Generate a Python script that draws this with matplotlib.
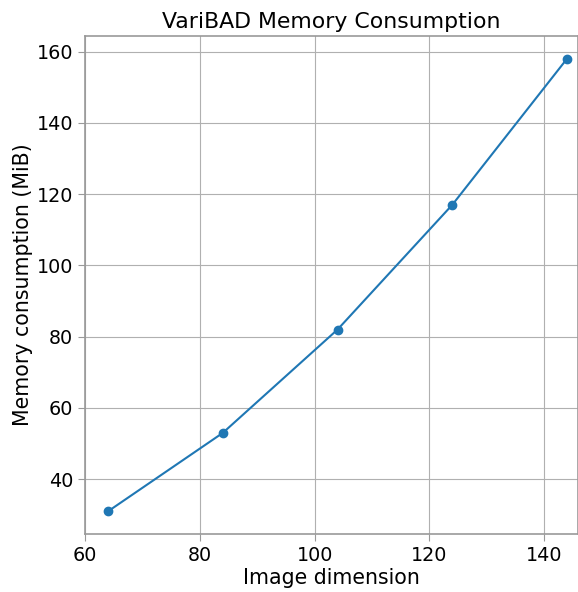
import matplotlib
matplotlib.use("Agg")
import matplotlib.pyplot as plt

# image size vs. peak memory
image_dim = [64, 84, 104, 124, 144]
memory_mib = [31, 53, 82, 117, 158]

plt.rcParams['font.family'] = ['DejaVu Sans']

fig = plt.figure(figsize=(5.78, 5.92), dpi=100)
ax = fig.add_axes([85 / 578, 58 / 592, 493 / 578, 498 / 592])

ax.plot(image_dim, memory_mib, marker='o', color='#1f77b4', markersize=6, linewidth=1.5)
ax.set_title("VariBAD Memory Consumption", fontsize=15.8, pad=6)
ax.set_xlabel("Image dimension", fontsize=14.8, labelpad=2)
ax.set_ylabel("Memory consumption (MiB)", fontsize=14.8, labelpad=3)
ax.set_xlim(60, 145.9)
ax.set_ylim(24.65, 164.35)
ax.set_xticks([60, 80, 100, 120, 140])
ax.set_yticks([40, 60, 80, 100, 120, 140, 160])
ax.grid(True, color='#b0b0b0', linewidth=0.8)
ax.set_axisbelow(True)
for s in ax.spines.values():
    s.set_color('#999999')
    s.set_linewidth(1.2)
ax.tick_params(colors='#999999', labelcolor='black', labelsize=13.8, length=5)

fig.savefig("out.png", dpi=100)
